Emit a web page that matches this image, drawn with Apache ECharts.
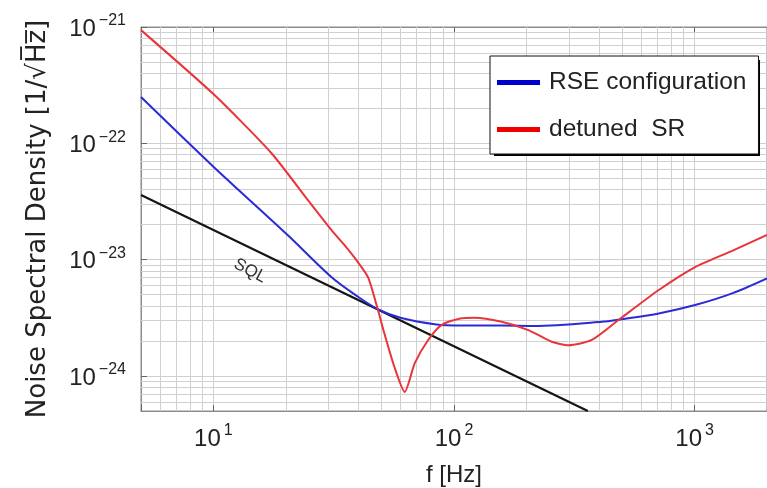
<!DOCTYPE html>
<html>
<head>
<meta charset="utf-8">
<script src="https://cdn.jsdelivr.net/npm/echarts@6/dist/echarts.min.js"></script>
<style>
html,body{margin:0;padding:0;background:#fff;}
#chart{width:767px;height:488px;}
</style>
</head>
<body>
<div id="chart"></div>
<script>
// ---- data ----
const rseName = 'RSE configuration';
const srName = 'detuned  SR';
const sqlLabel = 'SQL';
const xTitle = 'f [Hz]';
const yTitle = 'Noise Spectral Density [1/\u221AH\u0305z\u0305]';

const rseFreq = [5, 10, 20.4, 30.9, 39.9, 48.9, 60.4, 83, 107, 158, 216, 412, 499, 710, 1005, 1432, 2000];
const rseASD  = [2.5e-22, 6.3e-23, 1.62e-23, 7.1e-24, 4.8e-24, 3.69e-24, 3.15e-24, 2.79e-24, 2.71e-24, 2.71e-24, 2.69e-24, 2.92e-24, 3.08e-24, 3.45e-24, 4.07e-24, 5.13e-24, 6.9e-24];

const srFreq = [5, 10, 17.4, 24.7, 30.9, 35, 39.3, 43.9, 48.3, 51.3, 56.5, 62.4, 68.7, 78.1, 88.7, 107.4, 121.7, 157.7, 203.8, 254.7, 299, 374, 483, 710, 1005, 1432, 2000];
const srASD  = [9.4e-22, 2.65e-22, 8.26e-23, 3.25e-23, 1.8e-23, 1.34e-23, 9.9e-24, 7.08e-24, 3.69e-24, 2.34e-24, 1.2e-24, 7.3e-25, 1.29e-24, 2.04e-24, 2.74e-24, 3.13e-24, 3.17e-24, 2.92e-24, 2.48e-24, 1.97e-24, 1.84e-24, 2.04e-24, 3.03e-24, 5.48e-24, 8.63e-24, 1.19e-23, 1.63e-23];

const sqlFreq = [5, 360];
const sqlASD  = [3.6e-23, 5.0e-25];
const sqlLabelAt = [14.2, 8.0e-24];

const xTickExps = [1, 2, 3];
const yTickExps = [-24, -23, -22, -21];
const xRange = [5, 2000];
const yRange = [5e-25, 1e-21];
const xDecades = [1, 10, 100, 1000];
const yDecades = [1e-25, 1e-24, 1e-23, 1e-22];

// ---- helpers ----
const FONT = 'Liberation Sans, Arial, sans-serif';
const pairs = (xs, ys) => xs.map((x, i) => [x, ys[i]]);
function minorValues(decades, lo, hi) {
  const out = [];
  decades.forEach(d => { for (let k = 2; k <= 9; k++) { const v = k * d; if (v > lo * 1.0001 && v < hi * 0.9999) out.push(v); } });
  return out;
}
const gridColor = '#d0d0d0';
const minorLines = [
  ...minorValues(xDecades, xRange[0], xRange[1]).map(v => [{ coord: [v, yRange[0]] }, { coord: [v, yRange[1]] }]),
  ...minorValues(yDecades, yRange[0], yRange[1]).map(v => [{ coord: [xRange[0], v] }, { coord: [xRange[1], v] }])
];
function expLabel(list) {
  return function (v) {
    const l = Math.log10(v); const e = Math.round(l);
    if (Math.abs(l - e) > 1e-6 || list.indexOf(e) < 0) return '';
    return '{b|10}{s|' + (e < 0 ? '\u2212' + Math.abs(e) : e) + '}';
  };
}
const rich = {
  b: { fontSize: 24, fontFamily: FONT, color: '#222', lineHeight: 28, verticalAlign: 'bottom' },
  s: { fontSize: 16, fontFamily: FONT, color: '#222', lineHeight: 16, verticalAlign: 'top', padding: [0, 0, 0, 3] }
};

const chart = echarts.init(document.getElementById('chart'), null, { renderer: 'canvas' });
chart.setOption({
  animation: false,
  backgroundColor: '#fff',
  grid: { left: 141, top: 27, right: 0, bottom: 77, containLabel: false, outerBoundsMode: 'none',
          show: true, borderColor: '#8c8c8c', borderWidth: 1, backgroundColor: 'transparent' },
  graphic: [{
    type: 'rect', left: 494, top: 60, z: 3, silent: true,
    shape: { width: 266, height: 96 }, style: { fill: '#000' }
  }],
  legend: {
    orient: 'vertical', left: 490, top: 56, z: 6,
    data: [
      { name: rseName, icon: 'rect', itemStyle: { color: '#0000cc' } },
      { name: srName, icon: 'rect', itemStyle: { color: '#ee0000' } }
    ],
    itemWidth: 43, itemHeight: 5, itemGap: 22,
    padding: [14, 12, 12, 7],
    textStyle: { fontSize: 24.5, fontFamily: FONT, color: '#222', padding: [0, 0, 0, 4] },
    backgroundColor: '#fff', borderColor: '#111', borderWidth: 1
  },
  xAxis: [{
    type: 'log', logBase: 10, min: xRange[0], max: xRange[1],
    name: xTitle, nameLocation: 'middle', nameGap: 52, nameMoveOverlap: false,
    nameTextStyle: { fontSize: 24, fontFamily: FONT, color: '#222' },
    axisLine: { show: true, lineStyle: { color: '#8c8c8c', width: 1 } },
    axisTick: { show: true, inside: true, length: 6, lineStyle: { color: '#666' } },
    axisLabel: { formatter: expLabel(xTickExps), rich: rich, margin: 12 },
    splitLine: { show: true, lineStyle: { color: gridColor, width: 1 } }
  }, {
    type: 'log', logBase: 10, min: xRange[0], max: xRange[1], position: 'top',
    axisLine: { show: true, lineStyle: { color: '#8c8c8c', width: 1 } },
    axisTick: { show: true, inside: true, length: 6, lineStyle: { color: '#666' } },
    axisLabel: { show: false }, splitLine: { show: false }
  }],
  yAxis: {
    type: 'log', logBase: 10, min: yRange[0], max: yRange[1],
    name: yTitle, nameLocation: 'middle', nameGap: 90, nameMoveOverlap: false,
    nameTextStyle: { fontSize: 26, fontFamily: 'DejaVu Sans, sans-serif', color: '#222' },
    axisLine: { show: true, lineStyle: { color: '#8c8c8c', width: 1 } },
    axisTick: { show: true, inside: true, length: 6, lineStyle: { color: '#666' } },
    axisLabel: { formatter: expLabel(yTickExps), rich: rich, margin: 15 },
    splitLine: { show: true, lineStyle: { color: gridColor, width: 1 } }
  },
  series: [
    {
      name: 'SQL', type: 'line', data: pairs(sqlFreq, sqlASD), showSymbol: false, symbol: 'none', z: 3,
      lineStyle: { color: '#151515', width: 2.2 },
      markLine: {
        z: 1, silent: true, symbol: ['none', 'none'], label: { show: false }, animation: false,
        lineStyle: { color: gridColor, width: 1, type: 'solid' },
        data: minorLines
      },
      markPoint: {
        symbol: 'circle', symbolSize: 0, silent: true,
        label: { show: true, formatter: sqlLabel, position: 'inside', rotate: -28, fontSize: 17, fontFamily: FONT, color: '#333' },
        data: [{ coord: sqlLabelAt }]
      }
    },
    {
      name: rseName, type: 'line', data: pairs(rseFreq, rseASD), showSymbol: false, symbol: 'none', smooth: 0.3, z: 4,
      lineStyle: { color: '#2b2bd6', width: 2 }, itemStyle: { color: '#0000cc' }
    },
    {
      name: srName, type: 'line', data: pairs(srFreq, srASD), showSymbol: false, symbol: 'none', smooth: 0.22, z: 5,
      lineStyle: { color: '#e8343a', width: 2 }, itemStyle: { color: '#ee0000' }
    }
  ]
});
</script>
</body>
</html>
